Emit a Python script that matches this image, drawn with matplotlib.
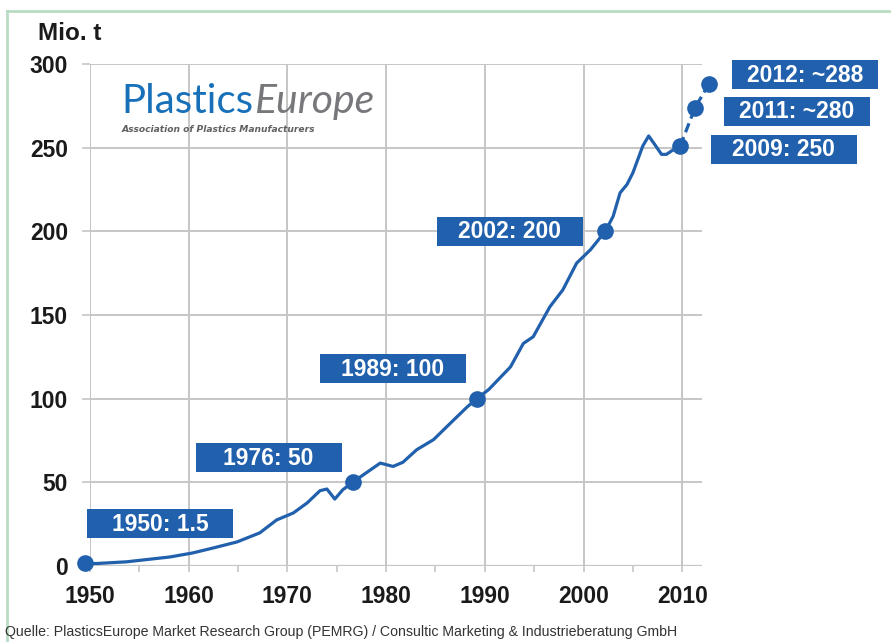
import matplotlib
matplotlib.use("Agg")
import matplotlib.pyplot as plt
from matplotlib.patches import Rectangle
from matplotlib.lines import Line2D

# ---- data ----
curve_years = [1949.5, 1950.7, 1953.7, 1958.1, 1960.4, 1962.5, 1964.9, 1967.2, 1968.9,
               1970.6, 1972.0, 1973.3, 1974.0, 1974.8, 1975.6, 1976.6, 1979.4, 1980.7,
               1981.7, 1983.1, 1984.8, 1986.8, 1988.2, 1989.2, 1990.4, 1992.6, 1993.9,
               1994.9, 1996.6, 1997.9, 1999.3, 2000.7, 2002.2, 2003.0, 2003.7, 2004.4,
               2005.0, 2006.0, 2006.6, 2007.2, 2007.9, 2008.4, 2008.9, 2009.8]
curve_values = [1.5, 1.5, 2.5, 5.4, 7.8, 10.8, 14.4, 19.8, 27.5,
                31.7, 37.7, 45.0, 46.0, 40.0, 45.5, 50.0, 61.5, 59.5,
                62.0, 69.5, 75.5, 87.0, 95.0, 100.0, 105.5, 119.0, 133.0,
                137.0, 155.0, 165.0, 181.0, 189.0, 200.0, 209.0, 223.0, 228.0,
                235.0, 251.0, 257.0, 252.0, 246.0, 246.0, 248.0, 251.0]
dashed_years = [2009.8, 2011.3, 2012.7]
dashed_values = [251.0, 274.0, 288.0]
dot_years = [1949.5, 1976.6, 1989.2, 2002.2, 2009.8, 2011.3, 2012.7]
dot_values = [1.5, 50.0, 100.0, 200.0, 251.0, 274.0, 288.0]
dot_labels = ["1950: 1.5", "1976: 50", "1989: 100", "2002: 200",
              "2009: 250", "2011: ~280", "2012: ~288"]
x_ticks = [1950, 1960, 1970, 1980, 1990, 2000, 2010]
x_minor = [1955, 1965, 1975, 1985, 1995, 2005]
y_ticks = [0, 50, 100, 150, 200, 250, 300]

# ---- layout ----
W, H = 891, 642
fig = plt.figure(figsize=(W / 100, H / 100), dpi=100)
fig.patch.set_facecolor("white")

def fx(px):
    return px / W

def fy(py):
    return 1 - py / H

ax = fig.add_axes([fx(90), fy(566), fx(702) - fx(90), fy(64) - fy(566)])
ax.set_xlim(1950, 2012)
ax.set_ylim(0, 300)

blue = "#2160ac"
grid = "#c6c6c6"

for s in ax.spines.values():
    s.set_visible(False)
ax.set_xticks(x_ticks)
ax.set_xticks(x_minor, minor=True)
ax.set_yticks(y_ticks)
ax.grid(True, which="major", color=grid, linewidth=1.4)
ax.axhline(0, color=grid, linewidth=1.6, zorder=1)
ax.set_axisbelow(True)
ax.tick_params(axis="y", length=5.8, width=1.2, color=grid, pad=10,
               labelsize=16.5)
ax.tick_params(axis="x", which="major", length=4.5, width=1.2, color=grid, pad=9,
               labelsize=16.5)
ax.tick_params(axis="x", which="minor", length=4.5, width=1.2, color=grid)
for lab in ax.get_xticklabels() + ax.get_yticklabels():
    lab.set_fontweight("bold")
    lab.set_family("Liberation Sans")
    lab.set_color("#1a1a1a")

ax.plot(curve_years, curve_values, color=blue, linewidth=2.3,
        solid_joinstyle="round", solid_capstyle="round", clip_on=False, zorder=3)
ax.plot(dashed_years, dashed_values, color=blue, linewidth=2.3,
        linestyle=(0, (3, 1.6)), clip_on=False, zorder=3)
ax.plot(dot_years, dot_values, "o", color=blue, markersize=12,
        markeredgewidth=0, clip_on=False, zorder=4)

# label boxes (pixel centers)
box_centers = [(160, 523.5), (268.5, 457.5), (392.5, 368), (510, 231),
               (783.5, 149), (796.5, 111), (805, 74)]
bw, bh = 146, 29
for (cx, cy), txt in zip(box_centers, dot_labels):
    fig.patches.append(Rectangle((fx(cx - bw / 2), fy(cy + bh / 2)),
                                 bw / W, bh / H, transform=fig.transFigure,
                                 facecolor=blue, edgecolor="none", zorder=5))
    fig.text(fx(cx), fy(cy + 1), txt, ha="center", va="center", color="white",
             fontsize=16.5, fontweight="bold", family="Liberation Sans", zorder=6)

# unit label
fig.text(fx(38), fy(34), "Mio. t", ha="left", va="center", fontsize=17.5,
         fontweight="bold", family="Liberation Sans", color="#1a1a1a")

# logo
t1 = fig.text(fx(121), fy(113), "Plastics", ha="left", va="baseline",
              fontsize=29, family="Lato", color="#1870b8")
fig.canvas.draw()
bb = t1.get_window_extent()
fig.text(bb.x1 / W + 0.002, fy(113), "Europe", ha="left", va="baseline",
         fontsize=29.5, family="Lato", style="italic", fontweight="normal",
         color="#77787b")
fig.text(fx(122), fy(132), "Association of Plastics Manufacturers", ha="left",
         va="baseline", fontsize=6.6, family="DejaVu Sans", style="italic",
         fontweight="bold", color="#606060")

# source
fig.text(fx(5), fy(632), "Quelle: PlasticsEurope Market Research Group (PEMRG) / "
         "Consultic Marketing & Industrieberatung GmbH", ha="left", va="center",
         fontsize=10.2, family="Liberation Sans", color="#333333")

# green border
border = "#b9dcc3"
fig.lines.append(Line2D([fx(7), fx(7)], [fy(642), fy(11)], transform=fig.transFigure,
                        color=border, linewidth=2))
fig.lines.append(Line2D([fx(7), 1], [fy(11), fy(11)], transform=fig.transFigure,
                        color=border, linewidth=2))

fig.savefig("out.png", dpi=100, facecolor="white")
